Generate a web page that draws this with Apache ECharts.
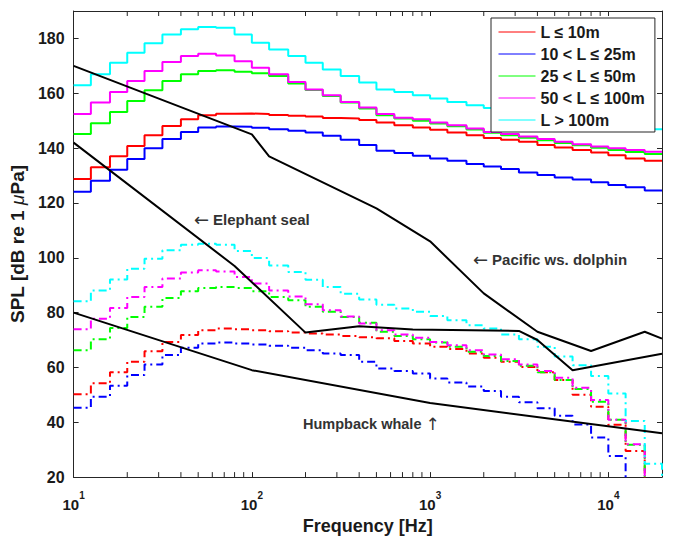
<!DOCTYPE html>
<html>
<head>
<meta charset="utf-8">
<script src="https://cdn.jsdelivr.net/npm/echarts@6/dist/echarts.min.js"></script>
<style>
html,body{margin:0;padding:0;background:#fff;}
#chart{width:674px;height:540px;}
</style>
</head>
<body>
<div id="chart"></div>
<script>
// ---- Data (1/3-octave band frequencies, Hz) ----
const freqs = [10, 12.5, 16, 20, 25, 31.5, 40, 50, 63, 80, 100, 125, 160, 200, 250, 315, 400, 500, 630, 800,
  1000, 1250, 1600, 2000, 2500, 3150, 4000, 5000, 6300, 8000, 10000, 12500, 16000, 20000];

// solid lines (upper set)
const redSolid = [128.7,133.0,137.0,140.8,144.7,148.1,150.5,152.0,152.5,152.6,152.4,152.1,151.8,151.5,151.0,150.8,150.2,149.3,148.3,147.5,146.7,145.7,144.7,143.7,143.0,142.3,141.1,140.2,139.3,138.4,137.4,136.2,135.4,135.4];
const blueSolid = [124.1,128.1,132.1,136.0,139.9,143.3,145.9,147.5,147.9,147.8,147.4,146.9,146.3,145.7,144.5,143.0,141.1,139.0,138.2,137.2,136.2,135.4,134.2,133.3,132.4,131.1,130.2,129.3,128.5,127.5,126.5,125.7,124.5,124.5];
const greenSolid = [145.1,149.1,153.2,157.2,161.1,164.5,166.9,168.1,168.4,167.8,167.3,166.3,163.6,161.2,159.0,156.6,154.4,152.0,150.8,150.0,149.0,148.0,146.8,145.6,144.7,143.8,142.9,141.9,141.0,140.1,139.3,138.6,137.8,137.8];
const magentaSolid = [152.4,156.6,160.5,164.5,168.1,171.4,173.6,174.4,173.8,171.7,169.3,166.9,164.1,161.4,159.3,156.8,154.8,152.4,151.1,150.5,149.3,148.3,147.1,145.9,145.1,144.2,143.3,142.3,141.4,140.6,139.9,139.3,138.7,138.7];
const cyanSolid = [162.9,166.9,171.1,174.8,178.2,181.4,183.3,184.2,183.9,181.4,178.4,176.0,173.6,171.1,168.7,166.3,163.9,161.4,160.5,159.3,158.1,156.8,155.6,154.6,153.6,152.6,151.6,150.6,149.7,148.8,148.0,147.4,146.9,146.9];

// dash-dot lines (lower set)
const redDash = [50.2,54.2,58.2,62.1,65.9,69.3,71.8,73.6,74.2,73.9,73.6,73.2,72.7,72.4,72.0,71.5,71.0,70.6,69.6,68.7,67.5,66.7,65.1,63.5,62.1,60.2,58.2,55.4,50.0,45.7,39.1,29.5,10,10];
const blueDash = [45.3,49.3,53.3,57.2,61.1,64.5,67.2,68.7,69.1,68.7,68.4,67.9,67.2,66.3,65.1,64.5,62.1,59.6,58.7,57.8,56.0,54.5,53.0,51.4,49.3,47.3,45.1,42.4,39.2,34.4,27.7,10,10,10];
const greenDash = [66.3,70.3,74.4,78.4,82.1,85.3,87.8,89.0,89.3,89.0,87.8,85.7,84.5,82.1,80.3,78.4,76.3,73.0,71.5,70.3,69.1,67.5,65.7,64.2,62.3,60.6,58.2,55.4,52.1,47.5,40.9,31.8,10,10];
const magentaDash = [73.9,77.8,81.7,85.7,89.3,92.4,94.6,95.4,95.0,93.0,90.6,88.1,85.9,83.0,80.9,78.6,76.0,73.6,72.0,70.8,69.3,68.1,66.3,64.7,63.0,61.1,58.7,56.2,52.6,48.1,40.9,32.0,10,10];
const cyanDash = [84.1,88.1,92.1,96.0,99.6,102.7,104.7,105.1,104.7,102.5,99.9,97.2,94.8,92.0,89.3,86.9,84.8,82.9,81.5,80.3,78.8,77.2,75.4,74.2,72.0,70.3,67.5,64.0,60.8,56.9,50.5,40.5,24.9,10];

// marine mammal reference curves
const elephantFreq = [10, 80, 200, 400, 800, 3150, 4000, 6300, 20000];
const elephantSPL  = [142, 97, 72.7, 75, 73.8, 73.3, 70, 59, 65];
const dolphinFreq = [10, 100, 125, 500, 1000, 2000, 4000, 8000, 16000, 20000];
const dolphinSPL  = [170, 145, 137, 118, 106, 87, 73, 66, 73, 70.5];
const humpbackFreq = [10, 100, 1000, 20000];
const humpbackSPL  = [80, 59, 47, 36];

// legend labels
const legendNames = ['L \u2264 10m', '10 < L \u2264 25m', '25 < L \u2264 50m', '50 < L \u2264 100m', 'L > 100m'];
// minor ticks of the log axis
const minorTicks = [20,30,40,50,60,70,80,90,200,300,400,500,600,700,800,900,2000,3000,4000,5000,6000,7000,8000,9000];
// axis ranges
const yMin = 20, yMax = 190, yStep = 20;
const xMin = 10, xMax = 20000;

// ---- Styles ----
const FONT = "'Liberation Sans', Arial, Helvetica, sans-serif";
const ARROWFONT = "'DejaVu Sans', sans-serif";
const AX = '#262626';
const TXT = '#1a1a1a';
const colors = ['#ff0000', '#0000ff', '#00ff00', '#ff00ff', '#00ffff'];
const solidSets = [redSolid, blueSolid, greenSolid, magentaSolid, cyanSolid];
const dashSets = [redDash, blueDash, greenDash, magentaDash, cyanDash];
const tickLen = 5;

function pairs(xs, ys) { return xs.map((x, i) => [x, ys[i]]); }

const series = [];
dashSets.forEach((d, i) => {
  series.push({
    name: legendNames[i] + ' (dash)', type: 'line', step: 'end', data: pairs(freqs, d),
    symbol: 'none', showSymbol: false, clip: true, z: 3,
    lineStyle: { color: colors[i], width: 2, type: [8, 4, 2, 4] }, itemStyle: { color: colors[i] }
  });
});
solidSets.forEach((d, i) => {
  series.push({
    name: legendNames[i], type: 'line', step: 'end', data: pairs(freqs, d),
    symbol: 'none', showSymbol: false, clip: true, z: 4,
    lineStyle: { color: colors[i], width: 2 }, itemStyle: { color: colors[i] }
  });
});
[[elephantFreq, elephantSPL, 'Elephant seal'], [dolphinFreq, dolphinSPL, 'Pacific ws. dolphin'], [humpbackFreq, humpbackSPL, 'Humpback whale']]
  .forEach(([f, v, n]) => {
    series.push({
      name: n, type: 'line', data: pairs(f, v), symbol: 'none', showSymbol: false, clip: true, z: 5,
      lineStyle: { color: '#000', width: 2 }, itemStyle: { color: '#000' }
    });
  });
series.push({
  name: 'minor ticks', type: 'custom', silent: true, z: 6, clip: false,
  data: minorTicks.map(f => [f, yMin]),
  encode: { x: 0, y: 1 },
  renderItem: function (params, api) {
    const f = api.value(0);
    const b = api.coord([f, yMin]);
    const t = api.coord([f, yMax]);
    return {
      type: 'group', children: [
        { type: 'line', shape: { x1: b[0], y1: b[1], x2: b[0], y2: b[1] - tickLen }, style: { stroke: AX, lineWidth: 1 } },
        { type: 'line', shape: { x1: t[0], y1: t[1], x2: t[0], y2: t[1] + tickLen }, style: { stroke: AX, lineWidth: 1 } }
      ]
    };
  }
});

const axisLineStyle = { color: AX, width: 1 };

const option = {
  animation: false,
  backgroundColor: '#fff',
  grid: { left: 69, top: 11, width: 593, height: 468, containLabel: false },
  legend: {
    data: legendNames,
    orient: 'vertical',
    left: 491, top: 18, z: 20,
    padding: [6, 10, 4, 7],
    itemWidth: 37, itemHeight: 14, itemGap: 6,
    backgroundColor: '#fff', borderColor: AX, borderWidth: 1,
    lineStyle: { width: 1 },
    itemStyle: { opacity: 0 },
    textStyle: { fontFamily: FONT, fontSize: 16, fontWeight: 'bold', color: TXT },
    selectedMode: false
  },
  xAxis: [
    {
      type: 'log', logBase: 10, min: xMin, max: xMax, position: 'bottom',
      axisLine: { show: true, onZero: false, lineStyle: axisLineStyle },
      axisTick: { show: true, inside: true, length: tickLen, lineStyle: axisLineStyle },
      splitLine: { show: false },
      axisLabel: {
        margin: 13, showMaxLabel: false, color: TXT,
        formatter: function (v) { return '{b|10}{s|' + Math.round(Math.log10(v)) + '}'; },
        rich: {
          b: { fontFamily: FONT, fontSize: 15, fontWeight: 'bold', color: TXT, lineHeight: 22, verticalAlign: 'bottom' },
          s: { fontFamily: FONT, fontSize: 10, fontWeight: 'bold', color: TXT, lineHeight: 8, verticalAlign: 'top' }
        }
      },
      name: 'Frequency [Hz]', nameLocation: 'middle', nameGap: 33,
      nameTextStyle: { fontFamily: FONT, fontSize: 18, fontWeight: 'bold', color: TXT }
    },
    {
      type: 'log', logBase: 10, min: xMin, max: xMax, position: 'top',
      axisLine: { show: true, onZero: false, lineStyle: axisLineStyle },
      axisTick: { show: true, inside: true, length: tickLen, lineStyle: axisLineStyle },
      splitLine: { show: false }, axisLabel: { show: false }
    }
  ],
  yAxis: [
    {
      type: 'value', min: yMin, max: yMax, interval: yStep, position: 'left',
      axisLine: { show: true, onZero: false, lineStyle: axisLineStyle },
      axisTick: { show: true, inside: true, length: tickLen, lineStyle: axisLineStyle },
      splitLine: { show: false },
      axisLabel: { margin: 9, showMaxLabel: false, fontFamily: FONT, fontSize: 16, fontWeight: 'bold', color: TXT },
      name: 'SPL [dB re 1 {m|\u03bc}Pa]', nameLocation: 'middle', nameGap: 40, nameRotate: 90,
      nameTextStyle: {
        fontFamily: FONT, fontSize: 19, fontWeight: 'bold', color: TXT,
        rich: { m: { fontFamily: FONT, fontSize: 19, fontWeight: 'normal', fontStyle: 'italic', color: TXT } }
      }
    },
    {
      type: 'value', min: yMin, max: yMax, interval: yStep, position: 'right',
      axisLine: { show: true, onZero: false, lineStyle: axisLineStyle },
      axisTick: { show: true, inside: true, length: tickLen, lineStyle: axisLineStyle },
      splitLine: { show: false }, axisLabel: { show: false }
    }
  ],
  graphic: [
    {
      type: 'text', x: 194, y: 219, z: 100,
      style: {
        text: '{a|\u2190}{b|Elephant seal}', verticalAlign: 'middle', align: 'left',
        rich: {
          a: { fontFamily: ARROWFONT, fontSize: 18, fontWeight: 'normal', fill: '#333', padding: [0, 4, 0, 0] },
          b: { fontFamily: FONT, fontSize: 15, fontWeight: 'bold', fill: '#333' }
        }
      }
    },
    {
      type: 'text', x: 473, y: 259, z: 100,
      style: {
        text: '{a|\u2190}{b|Pacific ws. dolphin}', verticalAlign: 'middle', align: 'left',
        rich: {
          a: { fontFamily: ARROWFONT, fontSize: 18, fontWeight: 'normal', fill: '#333', padding: [0, 4, 0, 0] },
          b: { fontFamily: FONT, fontSize: 15, fontWeight: 'bold', fill: '#333' }
        }
      }
    },
    {
      type: 'text', x: 303, y: 424, z: 100,
      style: {
        text: '{b|Humpback whale}{a|\u2191}', verticalAlign: 'middle', align: 'left',
        rich: {
          a: { fontFamily: ARROWFONT, fontSize: 17, fontWeight: 'normal', fill: '#333', padding: [0, 0, 0, 4] },
          b: { fontFamily: FONT, fontSize: 14.5, fontWeight: 'bold', fill: '#333' }
        }
      }
    }
  ],
  series: series
};

const chart = echarts.init(document.getElementById('chart'), null, { renderer: 'svg', width: 674, height: 540 });
chart.setOption(option);
</script>
</body>
</html>
